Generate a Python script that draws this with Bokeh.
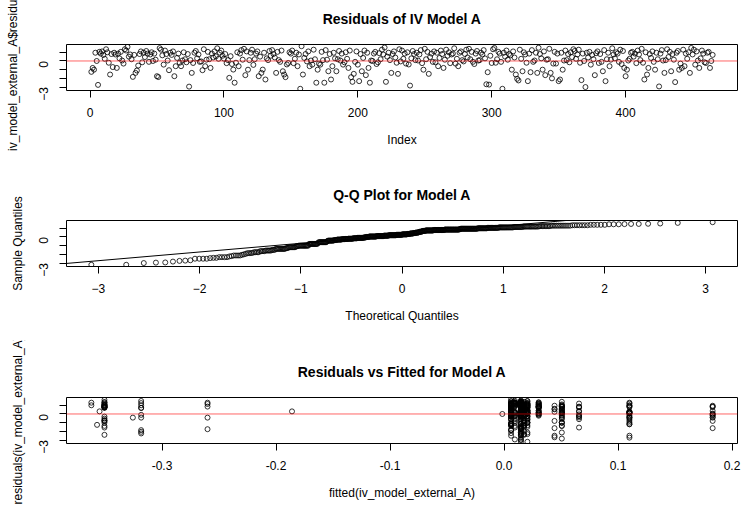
import math
import numpy as np
from statistics import NormalDist
from bokeh.plotting import figure
from bokeh.layouts import column
from bokeh.models import Range1d, FixedTicker, Span, Slope, Title
from bokeh.embed import file_html
from bokeh.resources import INLINE

residuals = [
    -1.25, -0.8, -1.0, 0.95, 0.0, -2.75, 1.05, 0.85, 1.1, 0.7, 0.25, 1.35, 1.0, -0.2, -1.56,
    0.8, -0.7, 0.95, 0.75, -0.8, 0.85, 0.3, 1.05, 0.05, -0.3, 1.35, 1.2, 1.62, 0.5, 0.75,
    0.2, -1.83, 0.7, -1.37, -1.1, -0.53, 0.8, 1.1, -0.15, 0.95, 0.45, 1.15, 0.85, -0.1, 0.75,
    1.0, 0.0, 0.85, 0.15, -1.75, -1.85, 1.48, 1.3, 0.65, -0.42, 1.2, 0.8, 0.05, -1.06, 0.95,
    0.7, 1.1, -1.75, -0.6, 0.35, 0.85, -0.2, -0.6, 0.05, 1.0, 0.2, -0.15, 0.8, -2.95, 0.1,
    -1.37, -0.23, 0.95, 1.15, 0.3, 0.75, -0.1, -0.05, -1.06, 1.35, -0.6, 0.15, 1.05, 0.2, -0.8,
    0.85, 0.4, 1.1, 0.53, 1.46, 0.25, 0.95, 1.2, 0.6, 0.27, 0.8, -0.25, 0.1, -1.94, 0.55,
    -0.35, -0.99, -2.5, -0.2, 1.0, -0.6, 0.85, 1.25, 0.15, 1.4, -1.63, 1.1, -1.0, 0.1, 0.95,
    1.3, -0.45, 0.2, 0.85, 1.1, -1.75, 0.5, -1.37, -0.99, 0.95, -2.13, 0.3, 0.1, 1.15, 0.6,
    1.25, 0.8, 0.4, -1.37, 1.05, 0.1, -0.1, 1.2, -1.18, -1.56, -1.86, -0.4, -0.23, 1.0, 0.85,
    1.2, -0.25, 0.25, 0.95, -0.6, 0.75, -3.2, 1.7, -1.56, 0.35, 0.8, -0.05, 1.1, -0.6, 0.05,
    -0.42, 1.3, 0.2, -2.5, -1.0, -0.3, -0.42, 1.05, 0.1, -2.5, 1.25, 0.15, -1.18, 0.8, -2.13,
    -0.6, 0.95, 0.3, -1.18, 0.2, 1.15, 0.05, 0.85, -0.42, -0.15, 1.0, 0.25, -0.8, 1.2, -1.86,
    -2.4, -1.48, -0.1, 1.1, -0.42, -2.32, 0.8, -1.18, 0.35, 1.2, -1.63, 0.95, -0.8, -2.5, 0.05,
    0.0, 0.85, 1.05, -0.35, -0.15, 0.9, 0.2, 1.3, 0.75, 1.55, -2.4, 0.5, 0.95, 0.1, -1.37,
    0.8, 1.1, 0.4, -0.2, -1.48, 1.35, -0.05, 1.2, 0.25, 0.85, -0.3, 1.0, -0.4, -2.83, 0.3,
    1.15, 0.8, 0.1, 0.95, 0.05, 0.75, 1.25, -0.25, -1.0, 1.4, 0.2, 1.05, -1.48, 0.45, 0.85,
    -0.1, 1.1, -0.15, 0.95, -0.6, 0.35, 1.2, 0.8, -0.8, 0.15, 1.3, 0.6, 1.0, -0.25, 0.75,
    0.85, 1.46, -0.3, 0.25, -0.6, 0.95, 1.1, 0.1, -0.05, 0.8, 1.3, 0.4, 1.4, 0.2, 1.05,
    -0.1, -0.35, 0.85, 1.15, 0.05, 0.1, 0.95, 0.75, 1.25, 0.3, -2.68, -1.29, -2.72, 0.6, -0.23,
    1.35, 1.5, -0.2, 0.2, 1.05, 0.85, -0.1, -3.2, 0.95, 0.5, 1.2, 0.15, 0.8, 0.65, -1.0,
    1.1, 0.4, -1.56, -2.05, -2.24, 1.3, 0.25, -1.18, 1.0, 0.75, -0.2, -2.32, 0.85, -1.29, 1.25,
    -0.1, 0.05, 0.95, -1.37, 1.52, 0.8, 0.3, -1.0, 1.1, -1.63, 0.15, 0.2, 1.4, -1.37, -2.0,
    -0.3, 1.05, -0.3, 0.85, -2.32, -2.13, 0.95, -1.0, 0.05, 1.2, 0.1, 0.8, -0.15, 1.0, 0.45,
    1.35, 1.15, 0.25, 0.75, 1.3, -0.2, -2.2, 0.85, 0.0, -3.0, 0.95, 0.4, 1.05, -0.42, 0.7,
    0.2, -1.63, 0.9, 1.1, -0.23, 0.8, -0.1, -1.18, 1.25, -2.32, 0.2, 0.95, -0.6, 0.15, 1.46,
    0.75, 0.3, 1.0, 0.85, -0.1, 1.3, -0.35, 1.15, -0.8, -1.75, -1.0, 0.05, 0.25, 0.95, 1.05,
    0.5, 0.85, -0.25, 1.2, 0.75, 0.1, 1.4, -0.2, -2.13, 1.0, -1.56, -0.8, 0.8, 0.35, 1.1,
    -0.1, -1.0, 0.95, 0.2, -2.93, 0.85, 1.25, 0.05, -1.37, 0.1, 1.35, 0.45, 1.05, -1.18, 0.8,
    0.15, -2.43, 0.95, 1.15, -1.0, -0.3, -0.8, 1.3, -0.6, 0.85, 0.25, 1.0, -1.37, 1.5, 0.75,
    1.3, -0.42, 1.1, 0.05, -0.8, 0.3, 1.2, 0.85, -0.15, -0.23, 0.95, 1.05, -0.8, 0.0, 0.7,
]

# Fitted value group of every observation (one letter per observation)
fitted_codes = (
    "bdddikjddfkddjd" "ddkdddcdjddddkd" "kjddkddjkdkllfl" "akljkjkllellkjl"
    "flkjlglklfjklkl" "jklghlllkljlllm" "llkmjmmkmknjkkn" "nnmnnnnfnnmnnnn"
    "annnkgnnnjnnnkn" "knnnjnnokojooko" "koojookjkoookjp" "fppppppkpjkpppk"
    "pppppjppppppppf" "dkqjqkqjqkqqqkq" "qqkqqjtrsktjskr" "jktrsktjskrtknj"
    "ksjtrkjstkrskjt" "jktrsktjskrtksj" "ksjtrkjstkrskjt" "jktrsktjskmtpsj"
    "kfjtrkjstkrskjt" "jktffktjskrtksj" "ksjtrkjstkrskjt" "jktrsktjskrtksj"
    "ksjtrkjstkrskgt" "jktrsktjskrtksj" "ksjtrkjstkrskjt" "jktrsktjskrtksj"
    "ksjtrkjstkrskjt" "jktrsktgskrtksj" "ksjtrkjstkrskjt"
)

# Fitted value of each group
fitted_levels = {
    "a": -0.3620, "b": -0.3570, "c": -0.3548, "d": -0.3505, "e": -0.3256,
    "f": -0.3183, "g": -0.2601, "h": -0.1860, "i": -0.0015, "j": 0.0062,
    "r": 0.0095, "k": 0.0148, "t": 0.0176, "s": 0.0205, "l": 0.0304,
    "m": 0.0443, "n": 0.0507, "o": 0.0658, "p": 0.1100, "q": 0.1830,
}

titles = ["Residuals of IV Model A", "Q-Q Plot for Model A", "Residuals vs Fitted for Model A"]
xlabels = ["Index", "Theoretical Quantiles", "fitted(iv_model_external_A)"]
ylabels = ["iv_model_external_A$residuals", "Sample Quantiles", "residuals(iv_model_external_A)"]
y_ticks_labeled = [-3, 0]
y_ticks_unlabeled = [-2, -1, 1]
x_ticks_1 = [0, 100, 200, 300, 400]
x_ticks_2 = [-3, -2, -1, 0, 1, 2, 3]
x_ticks_3 = [-0.3, -0.2, -0.1, 0.0, 0.1, 0.2]
x_tick_labels_3 = {-0.3: "-0.3", -0.2: "-0.2", -0.1: "-0.1", 0.0: "0.0", 0.1: "0.1", 0.2: "0.2"}

n = len(residuals)
assert len(fitted_codes) == n, (len(fitted_codes), n)
index = list(range(1, n + 1))
fitted = [fitted_levels[c] for c in fitted_codes]

# Q-Q computations (as qqnorm / qqline do)
nd = NormalDist()
theo = [nd.inv_cdf((i - 0.5) / n) for i in range(1, n + 1)]
sample = sorted(residuals)
q_s = np.quantile(residuals, [0.25, 0.75])
q_t = [nd.inv_cdf(0.25), nd.inv_cdf(0.75)]
qq_slope = (q_s[1] - q_s[0]) / (q_t[1] - q_t[0])
qq_int = q_s[0] - qq_slope * q_t[0]


def padded(vals):
    lo, hi = min(vals), max(vals)
    r = hi - lo
    return lo - 0.04 * r, hi + 0.04 * r


FONT = "Liberation Sans"


def make_fig(height, top, bottom, xr, yr, title, xlab, ylab, xticks, xover, ylab_standoff):
    p = figure(width=745, height=height, x_range=Range1d(*xr), y_range=Range1d(*yr),
               output_backend="svg", toolbar_location=None, title=None,
               min_border_left=66, min_border_right=8,
               min_border_top=top, min_border_bottom=bottom)
    p.grid.visible = False
    p.outline_line_color = "black"
    p.outline_line_width = 1
    p.background_fill_color = "white"
    p.border_fill_color = "white"
    xa = p.below[0]
    ya = p.left[0]
    for ax in (xa, ya):
        ax.axis_line_color = None
        ax.major_tick_in = 0
        ax.major_tick_out = 7
        ax.major_tick_line_color = "black"
        ax.major_label_text_font = FONT
        ax.major_label_text_font_size = "12px"
        ax.major_label_text_color = "black"
        ax.axis_label_text_font = FONT
        ax.axis_label_text_font_size = "12px"
        ax.axis_label_text_font_style = "normal"
        ax.axis_label_text_color = "black"
    xa.ticker = FixedTicker(ticks=xticks)
    xa.minor_tick_line_color = None
    if xover:
        xa.major_label_overrides = xover
    xa.major_label_standoff = 10
    xa.axis_label = xlab
    xa.axis_label_standoff = 13
    ya.ticker = FixedTicker(ticks=y_ticks_labeled, minor_ticks=y_ticks_unlabeled)
    ya.minor_tick_in = 0
    ya.minor_tick_out = 7
    ya.minor_tick_line_color = "black"
    ya.major_label_orientation = math.pi / 2
    ya.major_label_standoff = 16
    ya.axis_label = ylab
    ya.axis_label_standoff = ylab_standoff
    # tiny white spacer between the frame and the title
    p.add_layout(Title(text=".", text_font_size="2px", text_color="white", standoff=15), "above")
    p.add_layout(Title(text=title, align="center", text_font=FONT, text_font_size="14px",
                       text_font_style="bold", text_color="black", standoff=0), "above")
    return p


yr = padded(residuals)

p1 = make_fig(170, 44, 80, padded(index), yr, titles[0], xlabels[0], ylabels[0],
              x_ticks_1, None, 12)
p1.scatter(index, residuals, marker="circle", size=5, fill_color=None,
           line_color="black", line_width=0.8)
p1.add_layout(Span(location=0, dimension="width", line_color="#ff0000", line_width=1, line_alpha=0.6))

p2 = make_fig(170, 50, 74, padded(theo), padded(sample), titles[1], xlabels[1], ylabels[1],
              x_ticks_2, None, 7)
p2.scatter(theo, sample, marker="circle", size=5, fill_color=None,
           line_color="black", line_width=0.8)
p2.add_layout(Slope(gradient=qq_slope, y_intercept=qq_int, line_color="black", line_width=1))

p3 = make_fig(166, 57, 63, padded(fitted), yr, titles[2], xlabels[2], ylabels[2],
              x_ticks_3, x_tick_labels_3, 7)
p3.scatter(fitted, residuals, marker="circle", size=5, fill_color=None,
           line_color="black", line_width=0.8)
p3.add_layout(Span(location=0, dimension="width", line_color="#ff0000", line_width=1, line_alpha=0.6))

layout = column(p1, p2, p3, spacing=0)
open("out.html", "w").write(file_html(layout, INLINE))
